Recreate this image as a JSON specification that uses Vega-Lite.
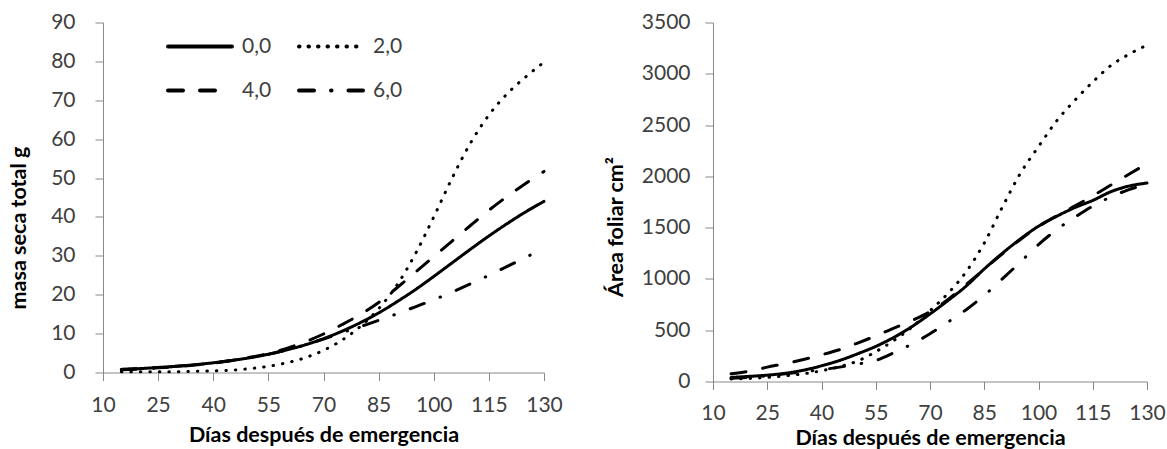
{
  "$schema": "https://vega.github.io/schema/vega-lite/v6.json",
  "background": "white",
  "padding": {"left": 8, "top": 11.5, "right": 5, "bottom": 0},
  "spacing": 42,
  "config": {
    "view": {"stroke": null},
    "font": "Lato",
    "axis": {
      "grid": false,
      "domainColor": "#898989",
      "tickColor": "#898989",
      "tickSize": 8,
      "labelFont": "Lato",
      "labelFontSize": 21,
      "labelColor": "#404040",
      "labelFlush": false,
      "titleFont": "Lato",
      "titleFontSize": 21.5,
      "titleFontWeight": "bold",
      "titleColor": "#000000"
    }
  },
  "datasets": {
    "masa": [
      {"d": 15, "t": "0,0", "v": 0.8}, {"d": 20, "t": "0,0", "v": 1.0}, {"d": 25, "t": "0,0", "v": 1.3}, {"d": 30, "t": "0,0", "v": 1.6}, {"d": 35, "t": "0,0", "v": 2.0}, {"d": 40, "t": "0,0", "v": 2.5}, {"d": 45, "t": "0,0", "v": 3.1}, {"d": 50, "t": "0,0", "v": 3.8}, {"d": 55, "t": "0,0", "v": 4.7}, {"d": 60, "t": "0,0", "v": 5.8}, {"d": 65, "t": "0,0", "v": 7.1}, {"d": 70, "t": "0,0", "v": 8.7}, {"d": 75, "t": "0,0", "v": 10.6}, {"d": 80, "t": "0,0", "v": 12.8}, {"d": 85, "t": "0,0", "v": 15.3}, {"d": 90, "t": "0,0", "v": 18.2}, {"d": 95, "t": "0,0", "v": 21.3}, {"d": 100, "t": "0,0", "v": 24.7}, {"d": 105, "t": "0,0", "v": 28.2}, {"d": 110, "t": "0,0", "v": 31.7}, {"d": 115, "t": "0,0", "v": 35.1}, {"d": 120, "t": "0,0", "v": 38.3}, {"d": 125, "t": "0,0", "v": 41.3}, {"d": 130, "t": "0,0", "v": 44.0},
      {"d": 15, "t": "2,0", "v": 0.2}, {"d": 20, "t": "2,0", "v": 0.2}, {"d": 25, "t": "2,0", "v": 0.2}, {"d": 30, "t": "2,0", "v": 0.2}, {"d": 35, "t": "2,0", "v": 0.3}, {"d": 40, "t": "2,0", "v": 0.4}, {"d": 45, "t": "2,0", "v": 0.6}, {"d": 50, "t": "2,0", "v": 1.0}, {"d": 55, "t": "2,0", "v": 1.6}, {"d": 60, "t": "2,0", "v": 2.5}, {"d": 65, "t": "2,0", "v": 3.8}, {"d": 70, "t": "2,0", "v": 5.7}, {"d": 75, "t": "2,0", "v": 8.3}, {"d": 80, "t": "2,0", "v": 11.8}, {"d": 85, "t": "2,0", "v": 16.4}, {"d": 90, "t": "2,0", "v": 22.5}, {"d": 95, "t": "2,0", "v": 30.5}, {"d": 100, "t": "2,0", "v": 40.0}, {"d": 105, "t": "2,0", "v": 50.0}, {"d": 110, "t": "2,0", "v": 59.0}, {"d": 115, "t": "2,0", "v": 66.2}, {"d": 120, "t": "2,0", "v": 71.7}, {"d": 125, "t": "2,0", "v": 76.0}, {"d": 130, "t": "2,0", "v": 79.8},
      {"d": 15, "t": "4,0", "v": 0.7}, {"d": 20, "t": "4,0", "v": 0.9}, {"d": 25, "t": "4,0", "v": 1.2}, {"d": 30, "t": "4,0", "v": 1.5}, {"d": 35, "t": "4,0", "v": 1.9}, {"d": 40, "t": "4,0", "v": 2.4}, {"d": 45, "t": "4,0", "v": 3.1}, {"d": 50, "t": "4,0", "v": 3.9}, {"d": 55, "t": "4,0", "v": 4.9}, {"d": 60, "t": "4,0", "v": 6.2}, {"d": 65, "t": "4,0", "v": 7.9}, {"d": 70, "t": "4,0", "v": 9.9}, {"d": 75, "t": "4,0", "v": 12.3}, {"d": 80, "t": "4,0", "v": 14.9}, {"d": 85, "t": "4,0", "v": 18.0}, {"d": 90, "t": "4,0", "v": 21.8}, {"d": 95, "t": "4,0", "v": 25.8}, {"d": 100, "t": "4,0", "v": 29.8}, {"d": 105, "t": "4,0", "v": 33.8}, {"d": 110, "t": "4,0", "v": 37.8}, {"d": 115, "t": "4,0", "v": 41.7}, {"d": 120, "t": "4,0", "v": 45.3}, {"d": 125, "t": "4,0", "v": 48.6}, {"d": 130, "t": "4,0", "v": 51.7},
      {"d": 15, "t": "6,0", "v": 0.8}, {"d": 20, "t": "6,0", "v": 1.0}, {"d": 25, "t": "6,0", "v": 1.3}, {"d": 30, "t": "6,0", "v": 1.6}, {"d": 35, "t": "6,0", "v": 2.0}, {"d": 40, "t": "6,0", "v": 2.5}, {"d": 45, "t": "6,0", "v": 3.1}, {"d": 50, "t": "6,0", "v": 3.8}, {"d": 55, "t": "6,0", "v": 4.7}, {"d": 60, "t": "6,0", "v": 5.8}, {"d": 65, "t": "6,0", "v": 7.1}, {"d": 70, "t": "6,0", "v": 8.6}, {"d": 75, "t": "6,0", "v": 10.2}, {"d": 80, "t": "6,0", "v": 11.8}, {"d": 85, "t": "6,0", "v": 13.4}, {"d": 90, "t": "6,0", "v": 15.1}, {"d": 95, "t": "6,0", "v": 16.9}, {"d": 100, "t": "6,0", "v": 18.7}, {"d": 105, "t": "6,0", "v": 20.7}, {"d": 110, "t": "6,0", "v": 22.8}, {"d": 115, "t": "6,0", "v": 25.0}, {"d": 120, "t": "6,0", "v": 27.3}, {"d": 125, "t": "6,0", "v": 29.6}, {"d": 130, "t": "6,0", "v": 32.0}
    ],
    "area": [
      {"d": 15, "t": "0,0", "v": 40}, {"d": 20, "t": "0,0", "v": 50}, {"d": 25, "t": "0,0", "v": 62}, {"d": 30, "t": "0,0", "v": 80}, {"d": 35, "t": "0,0", "v": 110}, {"d": 40, "t": "0,0", "v": 153}, {"d": 45, "t": "0,0", "v": 205}, {"d": 50, "t": "0,0", "v": 270}, {"d": 55, "t": "0,0", "v": 342}, {"d": 60, "t": "0,0", "v": 430}, {"d": 65, "t": "0,0", "v": 535}, {"d": 70, "t": "0,0", "v": 658}, {"d": 75, "t": "0,0", "v": 790}, {"d": 80, "t": "0,0", "v": 930}, {"d": 85, "t": "0,0", "v": 1097}, {"d": 90, "t": "0,0", "v": 1250}, {"d": 95, "t": "0,0", "v": 1390}, {"d": 100, "t": "0,0", "v": 1514}, {"d": 105, "t": "0,0", "v": 1610}, {"d": 110, "t": "0,0", "v": 1695}, {"d": 115, "t": "0,0", "v": 1765}, {"d": 120, "t": "0,0", "v": 1850}, {"d": 125, "t": "0,0", "v": 1905}, {"d": 130, "t": "0,0", "v": 1935},
      {"d": 15, "t": "2,0", "v": 25}, {"d": 20, "t": "2,0", "v": 30}, {"d": 25, "t": "2,0", "v": 40}, {"d": 30, "t": "2,0", "v": 55}, {"d": 35, "t": "2,0", "v": 75}, {"d": 40, "t": "2,0", "v": 105}, {"d": 45, "t": "2,0", "v": 145}, {"d": 50, "t": "2,0", "v": 200}, {"d": 55, "t": "2,0", "v": 290}, {"d": 60, "t": "2,0", "v": 400}, {"d": 65, "t": "2,0", "v": 530}, {"d": 70, "t": "2,0", "v": 690}, {"d": 75, "t": "2,0", "v": 860}, {"d": 80, "t": "2,0", "v": 1070}, {"d": 85, "t": "2,0", "v": 1350}, {"d": 90, "t": "2,0", "v": 1700}, {"d": 95, "t": "2,0", "v": 2030}, {"d": 100, "t": "2,0", "v": 2290}, {"d": 105, "t": "2,0", "v": 2540}, {"d": 110, "t": "2,0", "v": 2740}, {"d": 115, "t": "2,0", "v": 2920}, {"d": 120, "t": "2,0", "v": 3080}, {"d": 125, "t": "2,0", "v": 3190}, {"d": 130, "t": "2,0", "v": 3280},
      {"d": 15, "t": "4,0", "v": 75}, {"d": 20, "t": "4,0", "v": 100}, {"d": 25, "t": "4,0", "v": 140}, {"d": 30, "t": "4,0", "v": 175}, {"d": 35, "t": "4,0", "v": 215}, {"d": 40, "t": "4,0", "v": 260}, {"d": 45, "t": "4,0", "v": 310}, {"d": 50, "t": "4,0", "v": 375}, {"d": 55, "t": "4,0", "v": 445}, {"d": 60, "t": "4,0", "v": 520}, {"d": 65, "t": "4,0", "v": 595}, {"d": 70, "t": "4,0", "v": 680}, {"d": 75, "t": "4,0", "v": 800}, {"d": 80, "t": "4,0", "v": 945}, {"d": 85, "t": "4,0", "v": 1095}, {"d": 90, "t": "4,0", "v": 1245}, {"d": 95, "t": "4,0", "v": 1385}, {"d": 100, "t": "4,0", "v": 1510}, {"d": 105, "t": "4,0", "v": 1615}, {"d": 110, "t": "4,0", "v": 1710}, {"d": 115, "t": "4,0", "v": 1810}, {"d": 120, "t": "4,0", "v": 1915}, {"d": 125, "t": "4,0", "v": 2020}, {"d": 130, "t": "4,0", "v": 2125},
      {"d": 15, "t": "6,0", "v": 30}, {"d": 20, "t": "6,0", "v": 40}, {"d": 25, "t": "6,0", "v": 55}, {"d": 30, "t": "6,0", "v": 75}, {"d": 35, "t": "6,0", "v": 95}, {"d": 40, "t": "6,0", "v": 115}, {"d": 45, "t": "6,0", "v": 140}, {"d": 50, "t": "6,0", "v": 170}, {"d": 55, "t": "6,0", "v": 205}, {"d": 60, "t": "6,0", "v": 280}, {"d": 65, "t": "6,0", "v": 365}, {"d": 70, "t": "6,0", "v": 465}, {"d": 75, "t": "6,0", "v": 580}, {"d": 80, "t": "6,0", "v": 700}, {"d": 85, "t": "6,0", "v": 840}, {"d": 90, "t": "6,0", "v": 1000}, {"d": 95, "t": "6,0", "v": 1165}, {"d": 100, "t": "6,0", "v": 1335}, {"d": 105, "t": "6,0", "v": 1480}, {"d": 110, "t": "6,0", "v": 1600}, {"d": 115, "t": "6,0", "v": 1710}, {"d": 120, "t": "6,0", "v": 1800}, {"d": 125, "t": "6,0", "v": 1870}, {"d": 130, "t": "6,0", "v": 1925}
    ]
  },
  "resolve": {"scale": {"strokeDash": "independent"}, "legend": {"strokeDash": "independent"}},
  "hconcat": [
    {
      "width": 441,
      "height": 350,
      "data": {"name": "masa"},
      "mark": {"type": "line", "interpolate": "monotone", "strokeWidth": 3, "strokeCap": "round", "color": "black"},
      "encoding": {
        "x": {"field": "d", "type": "quantitative", "scale": {"domain": [10, 130], "nice": false, "zero": false},
          "axis": {"values": [10, 25, 40, 55, 70, 85, 100, 115, 130], "title": "Días después de emergencia", "labelPadding": 14, "titlePadding": 9}},
        "y": {"field": "v", "type": "quantitative", "scale": {"domain": [0, 90], "nice": false},
          "axis": {"values": [0, 10, 20, 30, 40, 50, 60, 70, 80, 90], "title": "masa seca total g", "labelPadding": 20, "titlePadding": 20, "titleY": 205}},
        "strokeDash": {"field": "t", "type": "nominal",
          "scale": {"domain": ["0,0", "2,0", "4,0", "6,0"], "range": [[1, 0], [0.5, 9], [15, 17], [15, 17, 0.5, 17]]},
          "legend": {"orient": "none", "legendX": 63, "legendY": -10, "columns": 2, "direction": "horizontal", "title": null, "padding": 0,
            "symbolType": "stroke", "symbolSize": 4096, "symbolStrokeWidth": 4, "symbolStrokeColor": "black",
            "labelFont": "Lato", "labelFontSize": 21, "labelColor": "#404040", "labelOffset": 8,
            "columnPadding": 19, "rowPadding": -19,
            "encode": {"symbols": {"update": {"strokeCap": {"value": "round"}}}}}}
      }
    },
    {
      "width": 434,
      "height": 359,
      "data": {"name": "area"},
      "mark": {"type": "line", "interpolate": "monotone", "strokeWidth": 3, "strokeCap": "round", "color": "black"},
      "encoding": {
        "x": {"field": "d", "type": "quantitative", "scale": {"domain": [10, 130], "nice": false, "zero": false},
          "axis": {"values": [10, 25, 40, 55, 70, 85, 100, 115, 130], "title": "Días después de emergencia", "labelPadding": 13, "titlePadding": 4}},
        "y": {"field": "v", "type": "quantitative", "scale": {"domain": [0, 3500], "nice": false},
          "axis": {"values": [0, 500, 1000, 1500, 2000, 2500, 3000, 3500], "format": "d", "title": "Área foliar cm²", "labelPadding": 15, "titlePadding": 14, "titleY": 204}},
        "strokeDash": {"field": "t", "type": "nominal",
          "scale": {"domain": ["0,0", "2,0", "4,0", "6,0"], "range": [[1, 0], [0.5, 9], [15, 17], [15, 17, 0.5, 17]]},
          "legend": null}
      }
    }
  ]
}
